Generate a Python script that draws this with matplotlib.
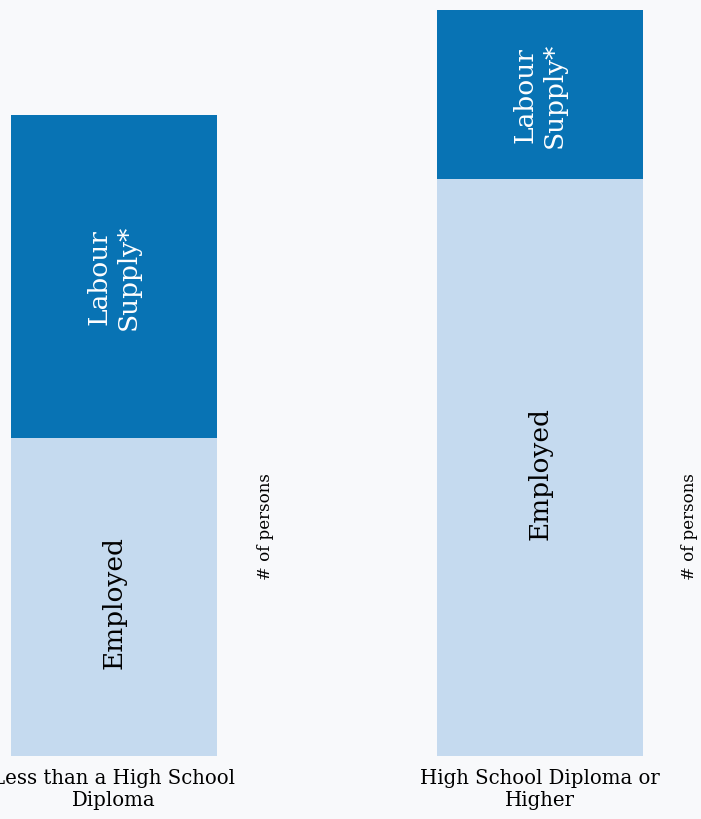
import matplotlib
matplotlib.use("Agg")
import matplotlib.pyplot as plt

categories = ["Less than a High School\nDiploma", "High School Diploma or\nHigher"]
employed = [318, 577]
labour_supply = [323, 169]
segment_labels = ["Employed", "Labour\nSupply*"]
axis_label = "# of persons"

BG = "#f8f9fb"
LIGHT = "#c5daef"
DARK = "#0873b4"
FONT = "DejaVu Serif"

W, H = 701, 820
fig = plt.figure(figsize=(W / 100, H / 100), dpi=100, facecolor=BG)
ax = fig.add_axes([0, 63 / H, 1, 757 / H])
ax.set_facecolor(BG)

unit = 426.0
x0 = 114.0
xs = list(range(len(categories)))
width = 206 / unit
ax.bar(xs, employed, width=width, color=LIGHT)
ax.bar(xs, labour_supply, width=width, bottom=employed, color=DARK)
ax.set_xlim(-x0 / unit, (W - x0) / unit)
ax.set_ylim(0, 757)

for x, e, l in zip(xs, employed, labour_supply):
    ax.text(x, e / 2 - 5, segment_labels[0], rotation=90, ha="center", va="center",
            fontsize=19, family=FONT, color="black")
    ax.text(x, e + l / 2, segment_labels[1], rotation=90, ha="center", va="center",
            fontsize=19, family=FONT, color="white", linespacing=1.2,
            multialignment="center")

ax.set_xticks(xs)
ax.set_xticklabels(categories, family=FONT, fontsize=14.2, linespacing=1.2)
ax.tick_params(axis="x", length=0, pad=9)
ax.set_yticks([])
for s in ax.spines.values():
    s.set_visible(False)

for px in [265, 690]:
    fig.text(px / W, 1 - 527 / H, axis_label, rotation=90, ha="center", va="center",
             fontsize=12, family=FONT, color="black")

fig.savefig("out.png", dpi=100, facecolor=BG)
